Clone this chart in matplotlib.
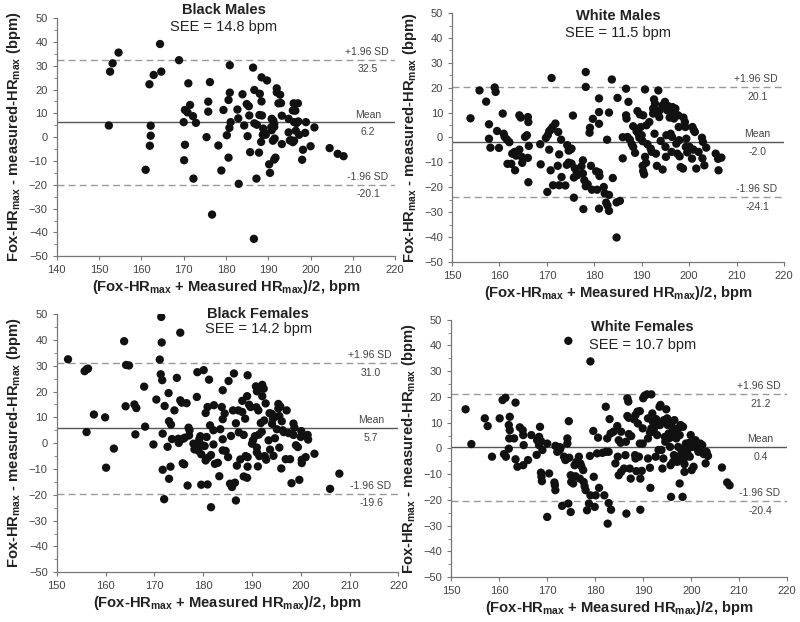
import matplotlib
matplotlib.use("Agg")
import matplotlib.pyplot as plt
from matplotlib.ticker import MultipleLocator

plt.rcParams['font.family'] = ['Liberation Sans', 'DejaVu Sans']
plt.rcParams['mathtext.fontset'] = 'custom'
plt.rcParams['mathtext.rm'] = 'Liberation Sans'
plt.rcParams['mathtext.bf'] = 'Liberation Sans:bold'

# ---------------- data ----------------
bm_x = [152.6, 153.2, 154.6, 152.3, 164.4, 164.7, 162.9, 161.9, 162.2, 162.2, 162.0, 161.0,
        168.9, 171.1, 176.2, 170.3, 170.9, 171.5, 172.2, 172.9, 170.0, 170.3, 170.1, 172.3,
        175.8, 175.8, 175.4, 178.2, 178.9, 176.7, 179.4, 180.2, 180.6, 180.9, 180.9, 181.1,
        180.8, 180.6, 182.7, 182.9, 183.0, 183.9, 184.3, 184.9, 185.4, 185.1, 185.5, 185.7,
        186.4, 186.7, 186.7, 187.3, 188.0, 187.9, 188.5, 187.8, 188.3, 187.2, 188.4, 189.7,
        188.4, 188.8, 189.3, 188.7, 189.4, 190.2, 190.4, 190.8, 190.8, 190.7, 191.2, 191.4,
        191.4, 191.1, 191.5, 191.7, 191.4, 192.0, 192.0, 192.8, 193.0, 192.4, 193.2, 193.2,
        194.8, 194.8, 195.1, 195.4, 196.0, 197.0, 195.8, 196.4, 196.1, 196.5, 196.7, 197.1,
        197.3, 195.8, 196.1, 198.9, 198.7, 198.2, 198.0, 200.9, 200.0, 204.5, 206.4, 207.8,
        186.6]
bm_y = [27.5, 31.0, 35.5, 4.9, 39.1, 27.5, 26.1, 22.2, 4.8, 0.6, -3.6, -13.7,
        32.3, 22.6, 23.1, 11.4, 10.4, 13.5, 8.8, 6.0, 6.3, -3.2, -9.7, -17.4,
        10.7, 14.9, 0.0, -3.5, -14.0, -32.5, 11.4, 0.8, 15.6, 18.7, 30.2, 6.3,
        3.9, -8.6, 11.6, 7.9, -19.6, 18.0, 4.9, 13.9, 13.0, 0.4, 9.1, -6.3,
        29.2, 19.8, 5.8, 5.2, 18.2, 9.3, 9.1, -6.5, -2.0, -17.4, 25.1, 23.8,
        15.0, 3.6, 1.5, 1.0, 1.0, -11.4, -15.0, 7.7, 2.9, 4.2, 6.9, 5.5,
        4.3, -1.5, -0.6, -8.6, -9.4, 20.5, 18.8, 17.8, 14.3, 14.2, 9.0, -2.9,
        7.7, 2.0, -1.4, -1.3, 14.2, 14.2, 11.2, 11.1, 6.3, 2.7, 5.9, 6.6,
        1.0, -2.1, -1.5, 6.3, 1.8, -5.3, -9.5, 4.1, -3.8, -4.6, -7.0, -8.0,
        -42.7]

wm_x = [153.9, 155.8, 157.2, 157.8, 157.8, 158.1, 159.0, 159.2, 159.5, 159.9, 160.7, 160.9,
        161.1, 161.6, 162.1, 161.7, 162.5, 162.7, 163.2, 163.5, 163.3, 164.2, 164.5, 164.2,
        164.7, 164.8, 165.8, 165.4, 166.0, 166.1, 166.0, 166.2, 166.1, 168.6, 168.7, 170.1,
        169.8, 170.2, 170.5, 170.8, 171.2, 171.0, 170.5, 170.8, 171.3, 171.8, 172.4, 173.0,
        172.6, 172.3, 172.6, 173.1, 173.9, 174.3, 174.6, 175.0, 175.2, 174.6, 174.2, 175.2,
        175.5, 175.7, 175.9, 175.7, 176.3, 176.4, 177.3, 177.6, 177.6, 177.7, 177.9, 178.2,
        178.2, 178.2, 179.1, 179.0, 178.6, 179.3, 179.5, 179.7, 180.6, 180.4, 181.0, 181.1,
        181.0, 181.0, 181.0, 181.0, 182.0, 182.2, 182.5, 182.8, 183.1, 182.7, 183.1, 183.1,
        183.7, 183.9, 184.7, 184.9, 185.4, 184.7, 186.0, 186.0, 186.7, 186.7, 186.8, 187.0,
        187.5, 187.2, 187.9, 188.2, 188.2, 188.6, 188.9, 189.1, 189.3, 189.5, 189.6, 189.8,
        190.0, 190.2, 190.3, 190.2, 190.3, 190.5, 190.7, 190.7, 190.9, 191.0, 191.2, 191.6,
        191.9, 192.1, 192.4, 192.4, 192.6, 192.8, 192.7, 193.0, 193.2, 193.5, 193.7, 193.8,
        194.0, 194.4, 194.4, 194.9, 195.0, 195.1, 195.2, 195.4, 195.6, 195.9, 196.1, 196.4,
        196.3, 196.5, 196.6, 196.8, 197.1, 197.3, 197.5, 197.7, 197.8, 197.9, 198.0, 198.2,
        198.7, 198.8, 199.1, 199.2, 199.3, 199.4, 199.6, 200.1, 200.7, 201.0, 200.6, 200.9,
        201.2, 201.5, 202.0, 202.7, 202.9, 202.8, 203.2, 203.6, 205.6, 206.1, 206.2, 206.8]
wm_y = [7.7, 18.9, 14.4, 5.3, -0.5, -4.1, 20.1, 18.3, 2.6, -4.2, 9.6, 1.5,
        0.2, -0.9, -1.9, -10.6, -10.6, -6.5, -5.8, -7.3, -13.2, 8.9, 8.0, -4.9,
        -7.8, -10.2, 0.9, 0.2, 8.2, 6.2, -8.2, -3.4, -18.0, -2.7, -10.8, -21.9,
        -0.2, 0.9, 2.5, 3.1, 4.2, 23.9, -4.9, -13.2, -19.2, 5.6, 2.2, -0.9,
        -6.8, -11.4, -19.2, -15.9, -19.3, -3.1, -5.3, -4.8, -4.5, -10.1, -11.0, -10.5,
        8.8, -24.2, -12.4, -16.1, -14.3, -15.2, -11.6, -9.2, -14.5, -28.8, -17.2, -19.6,
        26.3, 20.3, 3.9, 1.9, -18.8, -11.4, -21.0, 7.5, -21.0, -13.6, -14.1, -15.5,
        15.7, 10.2, 5.5, -28.6, -19.9, -22.5, -26.2, -27.4, -29.5, -0.9, 10.0, -23.1,
        23.3, -16.3, -26.1, 15.9, -25.5, -40.2, 0.1, -8.4, 19.6, 8.9, 7.6, 0.2,
        -0.9, 14.3, -2.7, -3.8, 4.5, -6.2, 2.5, 10.6, 1.5, -0.1, 9.3, 4.2,
        0.9, -1.5, 8.9, -11.4, -13.5, -14.8, 19.3, -7.8, -10.2, 4.9, -2.7, 6.2,
        -4.5, -5.8, 11.6, 9.6, 15.3, 13.6, 1.5, -6.5, -11.4, 18.9, 8.2, 10.9,
        -1.4, -12.9, 12.9, 14.3, -3.8, -7.8, 0.9, 10.9, 12.6, 8.0, 1.5, 0.2,
        -5.8, 12.2, 10.2, 7.6, 11.6, -2.5, -6.5, 8.9, 4.2, -1.1, -7.6, -11.9,
        -12.5, 8.0, 6.2, 4.2, -3.8, -0.5, -6.0, -3.8, 4.2, 2.9, -8.5, -4.9,
        2.2, -12.5, -5.8, -0.1, -1.8, -8.4, -11.2, -4.1, -6.5, -8.6, -13.2, -8.1]

bf_x = [152.3, 155.7, 156.1, 156.4, 156.1, 157.6, 159.9, 160.1, 161.7, 163.8, 164.2, 164.8,
        164.1, 165.9, 166.3, 166.1, 167.9, 168.1, 169.8, 170.4, 171.4, 171.5, 171.1, 171.3,
        171.6, 171.7, 171.7, 172.1, 172.0, 172.7, 172.9, 173.0, 173.4, 173.3, 173.0, 173.6,
        174.1, 174.6, 175.0, 174.9, 175.3, 175.3, 175.6, 175.8, 176.1, 175.9, 176.2, 176.6,
        176.8, 177.0, 177.2, 177.1, 178.0, 178.2, 178.6, 178.7, 178.8, 179.0, 179.2, 179.4,
        179.6, 179.6, 180.1, 179.8, 180.3, 180.5, 180.5, 180.9, 180.9, 180.7, 181.0, 181.2,
        181.6, 181.4, 181.6, 182.2, 182.1, 182.1, 182.4, 183.0, 183.3, 183.5, 183.8, 184.0,
        184.0, 184.0, 184.0, 184.4, 184.6, 185.1, 185.2, 185.5, 185.9, 185.7, 186.1, 186.3,
        186.5, 186.7, 186.7, 186.9, 187.2, 187.3, 187.6, 188.0, 188.0, 188.3, 188.3, 188.6,
        188.7, 189.0, 189.0, 189.1, 189.1, 189.1, 189.4, 189.7, 190.0, 190.2, 190.6, 190.9,
        191.0, 191.0, 190.8, 191.0, 191.2, 191.3, 191.4, 191.5, 191.8, 192.0, 192.1, 192.1,
        192.4, 192.5, 192.6, 192.9, 192.8, 193.4, 193.6, 193.7, 194.0, 194.1, 194.4, 194.3,
        194.7, 194.7, 195.1, 195.4, 195.4, 195.6, 195.8, 195.6, 196.1, 196.0, 196.3, 196.5,
        196.9, 197.1, 197.5, 197.8, 198.1, 198.5, 198.5, 198.7, 199.0, 199.4, 199.7, 200.1,
        200.0, 200.2, 200.2, 201.0, 201.4, 201.5, 202.8, 206.0, 207.9]
bf_y = [32.5, 27.9, 28.6, 28.9, 4.3, 11.1, 10.0, -9.5, -2.1, 39.5, 30.3, 30.1,
        14.3, 15.0, 13.6, 3.4, 21.9, 6.4, -0.5, 16.9, 48.9, 39.0, 32.4, 26.7,
        24.4, 3.7, -10.3, 14.4, -21.7, -1.4, 19.4, 8.5, 7.2, -9.1, -13.8, 1.6,
        12.7, 25.3, 0.1, 1.7, 42.8, 16.6, 15.7, -7.8, -8.2, 1.7, 2.1, 15.5,
        -16.4, 6.0, 5.0, 3.0, -0.2, -2.4, -1.1, 17.9, 27.5, -2.9, 1.5, 2.7,
        -4.3, -16.1, 28.3, -0.8, -1.1, -6.7, 11.7, 14.0, -16.0, 2.4, -5.6, 24.6,
        -4.6, 6.9, -24.8, 14.7, 5.0, -0.5, -8.0, -7.6, -12.8, 5.4, 14.0, 9.3,
        20.5, 1.5, -2.8, 11.5, -3.0, -5.4, 24.1, -15.7, -17.0, 2.8, 12.7, 27.0,
        -15.3, 7.7, -22.2, -8.7, 12.7, 4.2, -6.3, 12.1, 16.4, 3.2, -12.9, 9.5,
        -5.0, 18.2, -13.4, 26.3, -5.4, -9.1, 14.9, 14.0, -0.2, 1.1, 2.7, 13.9,
        -1.7, -3.6, 22.0, 20.1, -9.0, 12.7, 3.3, -5.0, 7.8, 4.4, 22.6, 18.2,
        21.1, 8.8, -5.0, -6.4, 15.4, 1.1, 11.6, -2.5, 11.4, 7.5, -4.9, 9.5,
        10.3, 1.9, 5.4, 15.2, 13.4, 10.5, 14.2, -1.7, 8.5, -9.8, 5.0, 4.3,
        -6.2, 12.7, 3.9, -6.2, -15.5, 7.6, 3.2, 6.0, -0.8, -1.5, -14.2, 4.7,
        2.4, -6.4, -7.7, -5.4, 3.2, 1.4, -4.1, -17.7, -11.8]

wf_x = [153.0, 154.2, 157.0, 157.6, 158.5, 160.1, 160.7, 161.3, 161.0, 161.4, 162.0, 162.2,
        162.2, 162.0, 162.1, 163.4, 163.1, 163.4, 163.8, 164.3, 164.9, 165.0, 165.1, 165.0,
        166.0, 166.7, 167.8, 167.9, 168.3, 168.5, 168.3, 168.7, 168.7, 168.8, 168.9, 169.0,
        170.0, 170.4, 170.0, 171.5, 171.6, 171.7, 171.7, 172.1, 172.3, 172.6, 172.8, 173.1,
        173.5, 173.8, 174.2, 174.2, 174.4, 174.5, 174.4, 174.6, 174.9, 174.9, 175.0, 175.4,
        175.7, 175.9, 176.1, 176.6, 176.8, 176.9, 177.1, 177.5, 177.6, 177.8, 178.0, 178.3,
        178.7, 179.0, 178.9, 179.0, 179.7, 179.6, 179.9, 180.1, 180.4, 180.6, 180.8, 181.5,
        181.9, 182.2, 182.2, 182.5, 182.8, 183.0, 182.6, 182.8, 183.2, 183.8, 183.3, 184.2,
        184.6, 184.7, 184.9, 184.9, 185.3, 185.4, 185.4, 186.0, 186.4, 186.3, 186.5, 186.7,
        186.9, 186.7, 187.0, 187.0, 187.2, 187.4, 187.5, 188.1, 188.3, 188.4, 188.8, 188.6,
        188.4, 188.9, 189.1, 189.3, 189.3, 189.4, 189.4, 189.7, 189.9, 189.9, 190.0, 190.3,
        190.8, 191.0, 191.0, 191.0, 191.4, 191.4, 191.5, 191.7, 191.7, 191.9, 192.0, 192.2,
        192.4, 192.6, 192.7, 192.9, 193.1, 193.2, 193.4, 193.6, 193.5, 193.8, 194.0, 194.2,
        194.3, 194.5, 194.6, 194.8, 195.0, 195.1, 195.3, 195.4, 195.6, 195.7, 195.8, 195.7,
        196.0, 196.0, 196.2, 196.4, 196.5, 196.7, 196.7, 196.9, 197.1, 197.3, 197.3, 197.4,
        197.6, 197.6, 197.8, 198.0, 198.2, 198.3, 198.5, 198.6, 198.6, 198.8, 198.9, 199.2,
        199.4, 199.6, 199.7, 199.9, 200.1, 200.2, 200.5, 200.6, 200.9, 201.3, 201.5, 201.7,
        201.9, 202.3, 202.6, 203.0, 203.2, 203.5, 206.4, 207.5, 208.0]
wf_y = [15.2, 1.7, 11.7, 8.7, -3.2, 11.7, 18.8, 19.7, -2.2, -3.2, 9.1, 12.3,
        7.1, -0.1, 3.9, 17.8, 3.9, -4.2, -7.1, 8.2, 7.1, 5.2, 1.3, -6.5,
        -4.5, 5.2, -2.5, 3.2, 1.3, 8.4, 4.5, 2.9, -9.4, -11.0, -12.7, -0.6,
        1.9, -9.7, -26.6, -13.2, -14.3, -16.2, 1.0, -1.3, 0.6, -0.6, 0.4, -22.3,
        -3.2, -4.5, 3.9, 1.9, 41.8, 10.6, -21.4, -3.6, -24.7, -10.4, -13.0, -13.6,
        -6.5, -10.8, -5.2, -3.2, -11.7, -5.8, -6.9, -8.4, -13.0, -14.7, -16.2, -24.0,
        -21.4, 33.8, -2.9, -18.2, -11.0, 6.8, -22.7, -18.2, -1.9, 4.2, -15.3, -1.7,
        -18.2, 16.2, -1.3, 3.9, -21.2, 11.4, -29.2, -1.3, 5.8, 6.5, -23.8, -5.8,
        8.7, -3.2, 3.2, -10.4, 2.2, 6.5, -9.1, -7.8, 2.6, -2.6, -25.3, 19.5,
        18.2, 12.6, 11.9, 5.6, -7.8, -11.7, 4.8, 11.3, -2.6, 13.0, 14.3, -8.8,
        -3.9, 9.7, -3.2, 14.5, 1.9, -11.7, -23.8, -8.7, 7.8, 1.9, 19.5, 20.5,
        21.0, 3.9, -3.9, 11.7, -7.5, 6.2, -15.3, 21.0, 7.8, 13.6, 10.4, 6.5,
        8.4, -3.2, 11.4, 5.2, 9.7, -0.6, 16.2, 16.9, 9.1, -0.6, -7.8, -3.9,
        11.0, 4.5, 2.6, 15.2, 11.7, 9.1, 5.8, 3.9, 0.6, 10.4, -18.8, -6.5,
        8.4, 4.5, -5.2, -2.6, 11.0, 6.5, -3.9, 3.9, -5.2, 7.8, 0.6, -3.2,
        -13.6, 5.2, 9.1, -1.3, -18.8, 8.4, -3.9, -6.1, -9.1, 0.6, 1.9, -0.6,
        -2.6, 2.2, -3.2, 5.2, -8.4, 0.6, -7.1, 1.9, 3.2, 0.0, -1.3, -0.4,
        1.9, 1.3, -2.2, -5.8, -1.3, -2.9, -7.4, -13.2, -14.3]

titles = ["Black Males", "White Males", "Black Females", "White Females"]
see_vals = [14.8, 11.5, 14.2, 10.7]
means = [6.2, -2.0, 5.7, 0.4]
upper_sd = [32.5, 20.1, 31.0, 21.2]
lower_sd = [-20.1, -24.1, -19.6, -20.4]
xlims = [(140, 220), (150, 220), (150, 220), (150, 220)]
xs = [bm_x, wm_x, bf_x, wf_x]
ys = [bm_y, wm_y, bf_y, wf_y]

# ---------------- plot ----------------
fig = plt.figure(figsize=(8, 6.22), dpi=100)
positions = [
    [0.071, 0.588, 0.423, 0.383],
    [0.565, 0.579, 0.415, 0.400],
    [0.071, 0.080, 0.427, 0.415],
    [0.564, 0.072, 0.420, 0.414],
]
# title placement (axes fraction): x centre, y of bold title, y of SEE line
title_pos = [(0.494, 1.034, 0.962), (0.50, 0.99, 0.92),
             (0.59, 1.00, 0.942), (0.57, 0.97, 0.90)]

ylabel = r'Fox-HR$_{\mathbf{max}}$ - measured-HR$_{\mathbf{max}}$ (bpm)'
xlabel = r'(Fox-HR$_{\mathbf{max}}$ + Measured HR$_{\mathbf{max}}$)/2, bpm'
tick_col = '#444444'
spine_col = '#777777'

for i in range(4):
    ax = fig.add_axes(positions[i])
    ax.scatter(xs[i], ys[i], s=36, color='#111111', edgecolors='none', zorder=3)
    ax.axhline(means[i], color='#555555', lw=1.0, zorder=2)
    ax.axhline(upper_sd[i], color='#999999', lw=1.0, ls=(0, (5, 3)), zorder=2)
    ax.axhline(lower_sd[i], color='#999999', lw=1.0, ls=(0, (5, 3)), zorder=2)
    ax.set_xlim(*xlims[i])
    ax.set_ylim(-50, 50)
    ax.yaxis.set_major_locator(MultipleLocator(10))
    ax.yaxis.set_minor_locator(MultipleLocator(5))
    ax.xaxis.set_major_locator(MultipleLocator(10))
    for s in ['top', 'right']:
        ax.spines[s].set_visible(False)
    for s in ['left', 'bottom']:
        ax.spines[s].set_color(spine_col)
        ax.spines[s].set_linewidth(0.9)
    ax.tick_params(axis='both', which='major', labelsize=8, colors=spine_col,
                   labelcolor=tick_col, length=3, width=0.8, direction='out')
    ax.tick_params(axis='y', which='minor', length=2, width=0.6, colors=spine_col)
    ax.set_xlabel(xlabel, fontsize=10.6, fontweight='bold', color='#222222', labelpad=2)
    ax.set_ylabel(ylabel, fontsize=10.6, fontweight='bold', color='#222222', labelpad=4)

    tx, ty, sy = title_pos[i]
    ax.text(tx, ty, titles[i], transform=ax.transAxes, ha='center', va='center',
            fontsize=10.5, fontweight='bold', color='#222222', clip_on=False)
    ax.text(tx, sy, f"SEE = {see_vals[i]} bpm", transform=ax.transAxes, ha='center',
            va='center', fontsize=10.5, color='#222222', clip_on=False)

    xr = xlims[i][1]
    xl = xlims[i][0]
    xt = xr - 0.02 * (xr - xl)
    xv = xr - 0.08 * (xr - xl)
    ann = '#444444'
    fs = 7.5
    ax.text(xt, upper_sd[i] + 1.2, "+1.96 SD", ha='right', va='bottom', fontsize=fs, color=ann)
    ax.text(xv, upper_sd[i] - 1.8, f"{upper_sd[i]:.1f}", ha='center', va='top', fontsize=fs, color=ann)
    ax.text(xv, means[i] + 1.2, "Mean", ha='center', va='bottom', fontsize=fs, color=ann)
    ax.text(xv, means[i] - 1.8, f"{means[i]:.1f}", ha='center', va='top', fontsize=fs, color=ann)
    ax.text(xt, lower_sd[i] + 1.2, "-1.96 SD", ha='right', va='bottom', fontsize=fs, color=ann)
    ax.text(xv, lower_sd[i] - 1.8, f"{lower_sd[i]:.1f}", ha='center', va='top', fontsize=fs, color=ann)

fig.savefig("out.png", dpi=100, facecolor='white')
